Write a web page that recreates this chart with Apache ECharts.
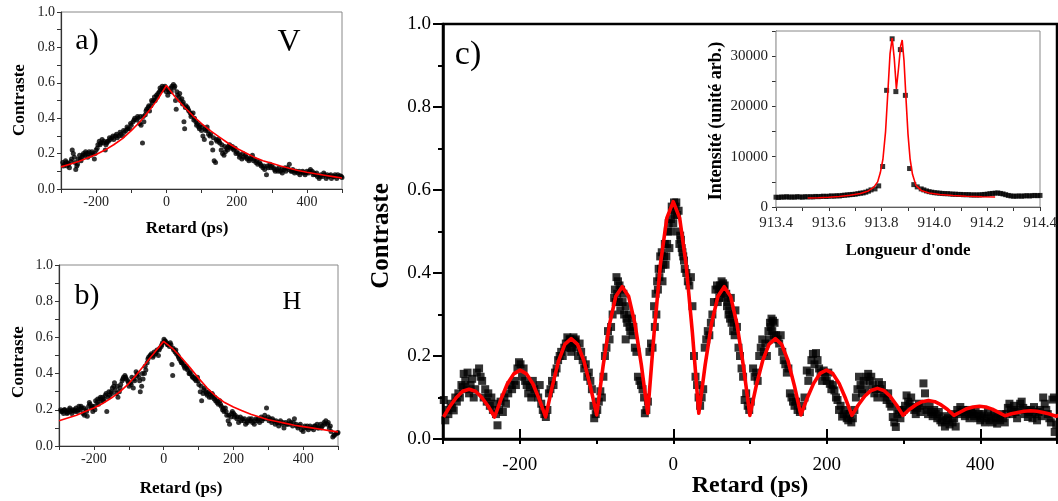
<!DOCTYPE html>
<html>
<head>
<meta charset="utf-8">
<script src="https://cdn.jsdelivr.net/npm/echarts@6/dist/echarts.min.js"></script>
<style>
html,body{margin:0;padding:0;background:#fff;}
#chart{width:1058px;height:501px;}
</style>
</head>
<body>
<div id="chart"></div>
<script>
// ---------- Data ----------
const scatterA = [[-295,0.15],[-290,0.14],[-287,0.16],[-283,0.13],[-280,0.145],[-276,0.12],[-272,0.155],[-268,0.22],[-265,0.2],[-262,0.18],[-258,0.11],[-255,0.13],[-251,0.17],[-247,0.19],[-243,0.16],[-240,0.18],[-236,0.2],[-232,0.19],[-228,0.2],[-224,0.18],[-220,0.21],[-215,0.19],[-210,0.2],[-205,0.17],[-200,0.22],[-195,0.25],[-191,0.27],[-187,0.26],[-183,0.28],[-178,0.27],[-174,0.22],[-170,0.26],[-165,0.27],[-160,0.28],[-155,0.29],[-150,0.28],[-145,0.3],[-140,0.29],[-135,0.3],[-130,0.31],[-125,0.3],[-120,0.32],[-115,0.33],[-110,0.34],[-105,0.34],[-100,0.36],[-95,0.38],[-90,0.4],[-85,0.39],[-80,0.4],[-76,0.37],[-72,0.36],[-68,0.26],[-64,0.38],[-60,0.42],[-56,0.45],[-52,0.46],[-48,0.44],[-44,0.47],[-40,0.49],[-36,0.5],[-32,0.5],[-28,0.53],[-24,0.54],[-20,0.55],[-16,0.56],[-12,0.58],[-8,0.57],[-4,0.58],[0,0.55],[4,0.53],[8,0.55],[12,0.57],[16,0.58],[20,0.59],[24,0.58],[26,0.5],[28,0.45],[32,0.53],[36,0.52],[40,0.5],[44,0.51],[48,0.49],[50,0.38],[52,0.34],[56,0.47],[60,0.46],[64,0.44],[68,0.43],[72,0.42],[76,0.43],[80,0.4],[84,0.38],[88,0.37],[92,0.35],[96,0.36],[100,0.33],[104,0.3],[108,0.28],[112,0.33],[116,0.35],[120,0.31],[124,0.3],[128,0.26],[132,0.22],[136,0.16],[140,0.15],[144,0.27],[148,0.28],[152,0.26],[156,0.22],[160,0.2],[164,0.19],[168,0.21],[172,0.23],[176,0.24],[180,0.25],[184,0.23],[188,0.24],[192,0.22],[196,0.23],[200,0.21],[205,0.2],[210,0.19],[215,0.17],[220,0.18],[225,0.19],[230,0.17],[235,0.16],[240,0.18],[245,0.19],[250,0.17],[255,0.15],[260,0.14],[265,0.15],[270,0.13],[275,0.12],[280,0.11],[285,0.08],[290,0.12],[295,0.14],[300,0.13],[305,0.12],[310,0.1],[315,0.11],[320,0.12],[325,0.1],[330,0.09],[335,0.11],[340,0.1],[345,0.12],[350,0.14],[355,0.1],[360,0.11],[365,0.09],[370,0.1],[375,0.09],[380,0.08],[385,0.095],[390,0.09],[395,0.08],[400,0.1],[405,0.09],[410,0.11],[415,0.1],[420,0.09],[425,0.08],[430,0.07],[435,0.06],[440,0.08],[445,0.07],[450,0.08],[455,0.06],[460,0.07],[465,0.075],[470,0.06],[475,0.07],[480,0.08],[485,0.06],[490,0.07],[495,0.075],[500,0.065],
[-293,0.13],[-285,0.15],[-278,0.14],[-270,0.17],[-260,0.15],[-253,0.14],[-245,0.17],[-238,0.19],[-230,0.21],[-222,0.2],[-212,0.21],[-203,0.2],[-197,0.23],[-189,0.25],[-180,0.26],[-172,0.25],[-168,0.27],[-162,0.29],[-152,0.3],[-142,0.31],[-132,0.32],[-122,0.33],[-112,0.35],[-102,0.37],[-92,0.39],[-82,0.41],[-74,0.41],[-66,0.41],[-58,0.44],[-50,0.47],[-42,0.5],[-34,0.52],[-26,0.52],[-18,0.57],[-10,0.56],[-2,0.57],[6,0.56],[14,0.55],[22,0.57],[30,0.55],[38,0.54],[46,0.48],[54,0.46],[62,0.45],[70,0.41],[78,0.39],[86,0.36],[94,0.34],[102,0.35],[110,0.34],[118,0.33],[126,0.31],[134,0.29],[142,0.28],[150,0.27],[158,0.25],[166,0.24],[174,0.22],[182,0.24],[190,0.23],[198,0.2],[208,0.18],[218,0.2],[228,0.18],[238,0.17],[248,0.16],[258,0.16],[268,0.14],[278,0.13],[288,0.13],[298,0.12],[308,0.11],[318,0.1],[328,0.11],[338,0.12],[348,0.11],[358,0.1],[368,0.1],[378,0.1],[388,0.1],[398,0.09],[408,0.1],[418,0.08],[428,0.09],[438,0.07],[448,0.09],[458,0.08],[468,0.08],[478,0.07],[488,0.08],[498,0.07]];

const fitA = [[-300,0.125],[-275,0.14],[-250,0.155],[-225,0.175],[-200,0.195],[-175,0.22],[-150,0.25],[-125,0.285],[-100,0.33],[-75,0.38],[-50,0.44],[-25,0.505],[0,0.585],[25,0.52],[50,0.465],[75,0.415],[100,0.37],[125,0.33],[150,0.295],[175,0.26],[200,0.23],[225,0.205],[250,0.18],[275,0.16],[300,0.145],[325,0.13],[350,0.117],[375,0.105],[400,0.095],[425,0.086],[450,0.078],[475,0.07],[500,0.062]];

const scatterB = [[-295,0.2],[-291,0.19],[-287,0.18],[-283,0.2],[-279,0.19],[-275,0.185],[-271,0.2],[-267,0.19],[-263,0.18],[-259,0.195],[-255,0.2],[-251,0.21],[-247,0.19],[-243,0.22],[-239,0.2],[-235,0.21],[-231,0.18],[-227,0.17],[-223,0.2],[-219,0.165],[-215,0.22],[-211,0.23],[-207,0.21],[-203,0.19],[-199,0.22],[-195,0.25],[-191,0.24],[-187,0.23],[-183,0.26],[-179,0.25],[-175,0.27],[-171,0.26],[-167,0.28],[-163,0.19],[-159,0.27],[-155,0.28],[-151,0.3],[-147,0.32],[-143,0.33],[-139,0.31],[-135,0.29],[-131,0.27],[-127,0.3],[-123,0.34],[-119,0.36],[-115,0.38],[-111,0.39],[-107,0.37],[-103,0.36],[-99,0.33],[-95,0.35],[-91,0.38],[-87,0.32],[-83,0.36],[-79,0.41],[-75,0.4],[-71,0.38],[-67,0.3],[-63,0.33],[-59,0.37],[-55,0.4],[-51,0.42],[-47,0.46],[-43,0.49],[-39,0.5],[-35,0.51],[-31,0.49],[-27,0.52],[-23,0.51],[-19,0.53],[-15,0.5],[-11,0.54],[-7,0.55],[-3,0.57],[1,0.59],[5,0.58],[9,0.57],[13,0.56],[17,0.55],[21,0.56],[24,0.45],[26,0.39],[29,0.53],[33,0.52],[37,0.51],[41,0.5],[45,0.48],[49,0.47],[53,0.46],[57,0.45],[61,0.43],[65,0.44],[69,0.42],[73,0.4],[77,0.41],[81,0.39],[85,0.38],[89,0.37],[93,0.36],[97,0.38],[101,0.34],[105,0.3],[109,0.25],[113,0.29],[117,0.32],[121,0.3],[125,0.28],[129,0.3],[133,0.29],[137,0.27],[141,0.28],[145,0.26],[149,0.25],[153,0.24],[157,0.23],[161,0.25],[165,0.22],[169,0.2],[173,0.19],[177,0.21],[181,0.17],[185,0.14],[189,0.12],[193,0.16],[197,0.19],[201,0.18],[205,0.17],[210,0.15],[215,0.13],[220,0.16],[225,0.15],[230,0.14],[235,0.12],[240,0.13],[245,0.15],[250,0.14],[255,0.13],[260,0.12],[265,0.15],[270,0.14],[275,0.13],[280,0.16],[285,0.15],[290,0.17],[295,0.21],[300,0.16],[305,0.15],[310,0.13],[315,0.14],[320,0.12],[325,0.13],[330,0.11],[335,0.14],[340,0.12],[345,0.1],[350,0.13],[355,0.12],[360,0.14],[365,0.13],[370,0.11],[375,0.15],[380,0.12],[385,0.1],[390,0.11],[395,0.09],[400,0.08],[405,0.11],[410,0.1],[415,0.09],[420,0.11],[425,0.1],[430,0.09],[435,0.11],[440,0.12],[445,0.1],[450,0.12],[455,0.11],[460,0.13],[465,0.14],[470,0.12],[475,0.1],[480,0.08],[485,0.05],[490,0.06],[495,0.07],[500,0.075],
[-293,0.19],[-285,0.2],[-277,0.18],[-269,0.21],[-261,0.2],[-253,0.19],[-245,0.2],[-237,0.22],[-229,0.21],[-221,0.19],[-213,0.24],[-205,0.22],[-197,0.2],[-189,0.26],[-181,0.27],[-173,0.25],[-165,0.29],[-157,0.3],[-149,0.29],[-141,0.35],[-133,0.33],[-125,0.32],[-117,0.37],[-109,0.38],[-101,0.35],[-93,0.34],[-85,0.37],[-77,0.39],[-69,0.36],[-61,0.4],[-53,0.44],[-45,0.48],[-37,0.5],[-29,0.5],[-21,0.52],[-13,0.53],[-5,0.56],[3,0.58],[11,0.56],[19,0.57],[27,0.54],[35,0.53],[43,0.49],[51,0.46],[59,0.44],[67,0.43],[75,0.4],[83,0.38],[91,0.37],[99,0.36],[107,0.33],[115,0.31],[123,0.29],[131,0.27],[139,0.29],[147,0.27],[155,0.25],[163,0.23],[171,0.21],[179,0.19],[187,0.17],[195,0.18],[203,0.16],[212,0.16],[222,0.14],[232,0.15],[242,0.14],[252,0.15],[262,0.14],[272,0.15],[282,0.14],[292,0.15],[302,0.14],[312,0.15],[322,0.14],[332,0.13],[342,0.13],[352,0.12],[362,0.12],[372,0.13],[382,0.11],[392,0.12],[402,0.1],[412,0.11],[422,0.1],[432,0.11],[442,0.1],[452,0.1],[462,0.12],[472,0.13],[478,0.11],[488,0.06],[498,0.07]];

const fitB = [[-300,0.14],[-275,0.155],[-250,0.17],[-225,0.19],[-200,0.21],[-175,0.235],[-150,0.265],[-125,0.3],[-100,0.345],[-75,0.4],[-50,0.46],[-25,0.52],[0,0.578],[25,0.54],[50,0.49],[75,0.435],[100,0.375],[125,0.32],[150,0.275],[175,0.24],[200,0.215],[225,0.195],[250,0.175],[275,0.16],[300,0.145],[325,0.135],[350,0.125],[375,0.115],[400,0.107],[425,0.1],[450,0.093],[475,0.085],[500,0.078]];

const scatterC = [[-299,0.094],[-297,0.045],[-295,0.07],[-293,0.06],[-290,0.085],[-288,0.075],[-286,0.069],[-284,0.1],[-282,0.09],[-280,0.11],[-278,0.1],[-276,0.13],[-274,0.125],[-273,0.157],[-271,0.14],[-269,0.12],[-268,0.16],[-266,0.11],[-264,0.13],[-262,0.145],[-260,0.1],[-258,0.12],[-256,0.16],[-253,0.17],[-251,0.15],[-249,0.14],[-247,0.1],[-245,0.12],[-243,0.09],[-241,0.11],[-239,0.08],[-237,0.1],[-235,0.07],[-233,0.085],[-231,0.06],[-229,0.033],[-227,0.07],[-225,0.09],[-222,0.065],[-220,0.1],[-218,0.085],[-215,0.11],[-212,0.13],[-210,0.12],[-207,0.14],[-205,0.13],[-203,0.17],[-201,0.185],[-199,0.18],[-197,0.15],[-195,0.17],[-193,0.14],[-191,0.13],[-189,0.11],[-187,0.125],[-185,0.1],[-183,0.14],[-181,0.12],[-179,0.11],[-176,0.1],[-174,0.13],[-172,0.085],[-170,0.07],[-168,0.06],[-166,0.053],[-164,0.07],[-162,0.11],[-160,0.12],[-158,0.14],[-156,0.13],[-154,0.16],[-152,0.17],[-150,0.19],[-148,0.2],[-146,0.21],[-144,0.2],[-142,0.22],[-140,0.23],[-138,0.245],[-136,0.23],[-134,0.24],[-132,0.22],[-130,0.245],[-128,0.235],[-126,0.22],[-124,0.2],[-122,0.23],[-120,0.21],[-118,0.19],[-116,0.17],[-114,0.18],[-112,0.15],[-110,0.16],[-108,0.14],[-106,0.12],[-104,0.08],[-103,0.05],[-101,0.06],[-99,0.07],[-97,0.09],[-95,0.115],[-93,0.1],[-91,0.15],[-89,0.2],[-87,0.22],[-85,0.26],[-83,0.24],[-81,0.27],[-79,0.3],[-77,0.34],[-75,0.33],[-74,0.39],[-72,0.38],[-70,0.37],[-68,0.36],[-66,0.33],[-64,0.3],[-62,0.32],[-60,0.28],[-58,0.3],[-56,0.26],[-54,0.29],[-52,0.27],[-50,0.22],[-48,0.21],[-46,0.15],[-44,0.14],[-42,0.13],[-40,0.12],[-38,0.1],[-37,0.062],[-35,0.07],[-33,0.09],[-31,0.21],[-29,0.23],[-27,0.22],[-25,0.32],[-23,0.35],[-21,0.38],[-19,0.41],[-17,0.44],[-15,0.45],[-13,0.42],[-11,0.47],[-9,0.44],[-7,0.5],[-5,0.46],[-3,0.53],[-1,0.55],[1,0.57],[3,0.56],[5,0.54],[7,0.55],[9,0.49],[11,0.46],[13,0.44],[15,0.41],[17,0.4],[19,0.38],[21,0.37],[23,0.39],[25,0.32],[27,0.2],[29,0.15],[31,0.13],[33,0.1],[35,0.08],[37,0.1],[39,0.12],[41,0.22],[43,0.24],[45,0.26],[47,0.25],[49,0.28],[51,0.3],[53,0.33],[55,0.36],[57,0.37],[59,0.36],[61,0.37],[63,0.38],[65,0.375],[67,0.37],[69,0.35],[71,0.33],[73,0.31],[75,0.34],[77,0.3],[79,0.28],[81,0.31],[83,0.27],[85,0.22],[87,0.2],[89,0.17],[91,0.15],[93,0.094],[95,0.11],[97,0.08],[99,0.07],[101,0.09],[104,0.17],[106,0.15],[108,0.16],[110,0.14],[112,0.2],[114,0.22],[116,0.24],[118,0.21],[120,0.23],[122,0.2],[124,0.26],[126,0.28],[128,0.29],[130,0.285],[132,0.28],[134,0.25],[136,0.24],[138,0.23],[140,0.25],[142,0.21],[144,0.19],[146,0.18],[148,0.16],[150,0.17],[152,0.11],[154,0.1],[156,0.09],[158,0.08],[160,0.09],[162,0.07],[165,0.065],[168,0.08],[171,0.1],[174,0.165],[176,0.14],[178,0.16],[180,0.19],[182,0.205],[184,0.18],[186,0.207],[188,0.19],[190,0.17],[192,0.16],[194,0.14],[196,0.165],[198,0.15],[200,0.14],[202,0.16],[204,0.133],[206,0.12],[208,0.13],[210,0.117],[212,0.1],[214,0.094],[216,0.07],[218,0.08],[220,0.054],[222,0.06],[224,0.07],[226,0.05],[228,0.045],[230,0.06],[232,0.04],[234,0.05],[236,0.07],[238,0.1],[240,0.12],[242,0.15],[244,0.13],[246,0.11],[248,0.14],[250,0.12],[252,0.15],[254,0.157],[256,0.14],[258,0.15],[260,0.13],[262,0.11],[264,0.12],[266,0.1],[268,0.137],[270,0.12],[272,0.13],[274,0.11],[276,0.1],[278,0.094],[280,0.11],[282,0.085],[284,0.078],[286,0.053],[288,0.04],[290,0.029],[292,0.06],[294,0.07],[296,0.05],[298,0.065],[300,0.07],[302,0.08],[304,0.105],[306,0.09],[308,0.085],[310,0.1],[312,0.077],[314,0.07],[316,0.06],[318,0.075],[320,0.085],[322,0.065],[324,0.08],[326,0.134],[328,0.11],[330,0.07],[332,0.06],[334,0.08],[336,0.065],[338,0.055],[340,0.07],[342,0.06],[344,0.05],[346,0.065],[348,0.045],[350,0.04],[352,0.055],[354,0.03],[356,0.045],[358,0.05],[360,0.035],[362,0.06],[364,0.04],[366,0.05],[368,0.03],[370,0.07],[372,0.06],[374,0.077],[376,0.065],[378,0.07],[380,0.055],[382,0.06],[384,0.07],[386,0.05],[388,0.065],[390,0.06],[392,0.055],[394,0.069],[396,0.05],[398,0.06],[400,0.045],[402,0.055],[404,0.06],[406,0.04],[408,0.05],[410,0.065],[412,0.045],[414,0.055],[416,0.04],[418,0.06],[420,0.05],[422,0.037],[424,0.055],[426,0.045],[428,0.06],[430,0.05],[432,0.04],[434,0.06],[436,0.075],[438,0.085],[440,0.07],[442,0.06],[444,0.08],[446,0.065],[448,0.05],[450,0.07],[452,0.085],[454,0.09],[456,0.075],[458,0.06],[460,0.07],[462,0.053],[464,0.065],[466,0.07],[468,0.05],[470,0.077],[472,0.06],[474,0.045],[476,0.065],[478,0.07],[480,0.055],[482,0.1],[484,0.085],[486,0.07],[488,0.06],[490,0.05],[492,0.04],[494,0.095],[496,0.1],[497,0.017],[499,0.035],
[-76,0.36],[-73,0.35],[-71,0.33],[-69,0.31],[-65,0.35],[-61,0.29],[-57,0.27],[-53,0.25],[-62,0.24],[-24,0.27],[-22,0.3],[-20,0.36],[-18,0.39],[-16,0.41],[-14,0.38],[-12,0.44],[-10,0.42],[-8,0.47],[-6,0.52],[-4,0.5],[-2,0.56],[0,0.52],[2,0.54],[4,0.57],[6,0.5],[8,0.47],[10,0.48],[12,0.45],[14,0.43],[58,0.33],[60,0.34],[62,0.35],[64,0.36],[66,0.36],[68,0.34],[70,0.32],[72,0.3],[74,0.29],[76,0.28],[78,0.26],[80,0.25],[127,0.27],[129,0.26],[131,0.25],[125,0.24],[-139,0.22],[-135,0.24],[-131,0.23],[-127,0.24],[-133,0.21]];

const fitC = [[-299.3,0.053],[-290.9,0.079],[-282.6,0.100],[-274.3,0.115],[-266.0,0.120],[-257.7,0.115],[-249.4,0.100],[-241.1,0.079],[-232.8,0.053],[-224.4,0.096],[-216.1,0.133],[-207.8,0.157],[-199.5,0.166],[-191.2,0.157],[-182.9,0.133],[-174.6,0.096],[-166.3,0.053],[-157.9,0.125],[-149.6,0.187],[-141.3,0.228],[-133.0,0.242],[-124.7,0.228],[-116.4,0.188],[-108.1,0.128],[-99.8,0.058],[-91.4,0.176],[-83.1,0.276],[-74.8,0.344],[-66.5,0.367],[-58.2,0.344],[-49.9,0.278],[-41.6,0.179],[-33.3,0.062],[-24.9,0.257],[-16.6,0.423],[-8.3,0.533],[0,0.572],[8.3,0.533],[16.6,0.423],[24.9,0.257],[33.3,0.062],[41.6,0.179],[49.9,0.278],[58.2,0.344],[66.5,0.367],[74.8,0.343],[83.1,0.276],[91.4,0.176],[99.8,0.057],[108.1,0.128],[116.4,0.188],[124.7,0.228],[133.0,0.242],[141.3,0.228],[149.6,0.188],[157.9,0.128],[166.3,0.058],[174.6,0.099],[182.9,0.134],[191.2,0.158],[199.5,0.166],[207.8,0.158],[216.1,0.134],[224.4,0.098],[232.8,0.057],[241.1,0.082],[249.4,0.103],[257.7,0.117],[266.0,0.122],[274.3,0.117],[282.6,0.103],[290.9,0.082],[299.3,0.057],[307.6,0.071],[315.9,0.082],[324.2,0.090],[332.5,0.093],[340.8,0.090],[349.1,0.082],[357.4,0.071],[365.8,0.057],[374.1,0.065],[382.4,0.073],[390.7,0.077],[399.0,0.079],[407.3,0.077],[415.6,0.072],[423.9,0.064],[432.3,0.056],[440.6,0.061],[448.9,0.064],[457.2,0.067],[465.5,0.068],[473.8,0.067],[482.1,0.064],[490.4,0.060],[498.8,0.055],[507,0.06]];

const scatterInset = [[913.40,1950],[913.41,1900],[913.42,2000],[913.43,1950],[913.44,2050],[913.45,1950],[913.46,2000],[913.47,1950],[913.48,2050],[913.49,2000],[913.50,1950],[913.51,2050],[913.52,2000],[913.53,2050],[913.54,2000],[913.55,2100],[913.56,2050],[913.57,2100],[913.58,2150],[913.59,2100],[913.60,2150],[913.61,2200],[913.62,2150],[913.63,2250],[913.64,2200],[913.65,2300],[913.66,2350],[913.67,2400],[913.68,2450],[913.69,2500],[913.70,2550],[913.71,2650],[913.72,2750],[913.73,2800],[913.74,2950],[913.75,3150],[913.76,3400],[913.775,3600],[913.789,4200],[913.804,8050],[913.819,23200],[913.84,33450],[913.854,22950],[913.871,31300],[913.89,22200],[913.906,7650],[913.922,4450],[913.935,4000],[913.95,3600],[913.96,3400],[913.97,3200],[913.98,3050],[913.99,2950],[914.00,2850],[914.01,2800],[914.02,2750],[914.03,2700],[914.04,2650],[914.05,2650],[914.06,2600],[914.07,2550],[914.08,2550],[914.09,2500],[914.10,2500],[914.11,2450],[914.12,2450],[914.13,2450],[914.14,2400],[914.15,2400],[914.16,2400],[914.17,2400],[914.18,2450],[914.19,2500],[914.20,2550],[914.21,2650],[914.22,2700],[914.23,2750],[914.24,2800],[914.25,2700],[914.26,2600],[914.27,2450],[914.28,2300],[914.29,2200],[914.30,2150],[914.31,2150],[914.32,2200],[914.33,2150],[914.34,2200],[914.35,2250],[914.36,2200],[914.37,2250],[914.38,2300],[914.39,2250],[914.40,2300]];

const fitInset = [[913.52,1800],[913.56,1850],[913.60,1950],[913.64,2100],[913.68,2350],[913.72,2700],[913.75,3200],[913.77,3900],[913.785,5000],[913.795,6800],[913.805,9500],[913.815,15000],[913.825,24000],[913.832,30500],[913.84,33600],[913.848,29500],[913.856,23500],[913.864,27500],[913.872,32000],[913.878,33200],[913.885,29000],[913.893,21000],[913.90,14500],[913.908,9500],[913.917,6500],[913.93,4300],[913.95,3300],[913.98,2800],[914.02,2500],[914.07,2300],[914.12,2150],[914.18,2050],[914.23,2000]];

const delayTickLabels = [-200, 0, 200, 400];

// ---------- Styling helpers ----------
const SERIF = '"Liberation Serif", "DejaVu Serif", serif';
const RED = '#ff0000';
const evenHundred = v => (delayTickLabels.indexOf(Math.round(v)) >= 0 ? String(Math.round(v)) : '');
const tenth = v => v.toFixed(1);

function smallX(grid) {
  return {
    type: 'value', gridIndex: grid, min: -300, max: 500, interval: 100,
    axisLine: {show: true, onZero: false, lineStyle: {color: '#333', width: 1.2}},
    axisTick: {show: true, inside: false, length: 4, lineStyle: {color: '#333', width: 1}},
    axisLabel: {formatter: evenHundred, color: '#222', fontFamily: SERIF, fontSize: 14, margin: 6},
    splitLine: {show: false}
  };
}
function smallY(grid) {
  return {
    type: 'value', gridIndex: grid, min: 0, max: 1, interval: 0.2,
    axisLine: {show: true, onZero: false, lineStyle: {color: '#333', width: 1.2}},
    axisTick: {show: true, inside: false, length: 4, lineStyle: {color: '#333', width: 1}},
    minorTick: {show: true, splitNumber: 2, length: 4, lineStyle: {color: '#333', width: 1}},
    axisLabel: {formatter: tenth, color: '#222', fontFamily: SERIF, fontSize: 14, margin: 6},
    splitLine: {show: false}, minorSplitLine: {show: false}
  };
}

function txt(x, y, text, size, bold, rot) {
  return {
    type: 'text', x: x, y: y, rotation: rot || 0, z: 100,
    style: {
      text: text, fill: '#000',
      font: (bold ? 'bold ' : '') + size + 'px ' + SERIF,
      align: 'center', verticalAlign: 'middle'
    }
  };
}

const chart = echarts.init(document.getElementById('chart'), null, {renderer: 'canvas'});

const option = {
  animation: false,
  backgroundColor: '#fff',
  grid: [
    {left: 61, top: 12, right: 716, bottom: 312, show: true, borderColor: '#888', borderWidth: 1, backgroundColor: 'transparent', outerBoundsMode: 'none'},
    {left: 59, top: 265, right: 720, bottom: 55, show: true, borderColor: '#888', borderWidth: 1, backgroundColor: 'transparent', outerBoundsMode: 'none'},
    {left: 443, top: 24, right: 1, bottom: 62, show: true, borderColor: '#000', borderWidth: 2.5, backgroundColor: 'transparent', outerBoundsMode: 'none'},
    {left: 776, top: 31, right: 18, bottom: 294, show: true, borderColor: '#888', borderWidth: 1, backgroundColor: '#fff', outerBoundsMode: 'none', z: 10}
  ],
  xAxis: [
    smallX(0),
    smallX(1),
    {
      type: 'value', gridIndex: 2, min: -300, max: 500, interval: 100,
      axisLine: {show: true, onZero: false, lineStyle: {color: '#000', width: 2.5}},
      axisTick: {show: true, inside: false, length: 5, lineStyle: {color: '#000', width: 2}},
      axisLabel: {formatter: evenHundred, color: '#000', fontFamily: SERIF, fontSize: 19, margin: 17},
      splitLine: {show: false}
    },
    {
      type: 'value', gridIndex: 3, min: 913.4, max: 914.4, interval: 0.1,
      axisLine: {show: true, onZero: false, lineStyle: {color: '#333', width: 1.2}},
      axisTick: {show: true, inside: false, length: 4, lineStyle: {color: '#333', width: 1}},
      axisLabel: {
        formatter: v => (Math.round(v * 10) % 2 === 0 ? v.toFixed(1) : ''),
        color: '#222', fontFamily: SERIF, fontSize: 15, margin: 9, showMaxLabel: true, showMinLabel: true
      },
      splitLine: {show: false}
    },
    {
      type: 'value', gridIndex: 2, min: -300, max: 500,
      axisLine: {show: false},
      axisTick: {show: true, inside: false, length: 10, customValues: delayTickLabels, lineStyle: {color: '#000', width: 2}},
      axisLabel: {show: false},
      splitLine: {show: false}
    }
  ],
  yAxis: [
    smallY(0),
    smallY(1),
    {
      type: 'value', gridIndex: 2, min: 0, max: 1, interval: 0.2,
      axisLine: {show: true, onZero: false, lineStyle: {color: '#000', width: 2.5}},
      axisTick: {show: true, inside: false, length: 10, lineStyle: {color: '#000', width: 2}},
      minorTick: {show: true, splitNumber: 2, length: 5, lineStyle: {color: '#000', width: 2}},
      axisLabel: {formatter: tenth, color: '#000', fontFamily: SERIF, fontSize: 19, margin: 12},
      splitLine: {show: false}, minorSplitLine: {show: false}
    },
    {
      type: 'value', gridIndex: 3, min: 0, max: 35000, interval: 5000,
      axisLine: {show: true, onZero: false, lineStyle: {color: '#333', width: 1.2}},
      axisTick: {show: true, inside: false, length: 4, lineStyle: {color: '#333', width: 1}},
      axisLabel: {
        formatter: v => (v % 10000 === 0 ? String(v) : ''),
        color: '#222', fontFamily: SERIF, fontSize: 15, margin: 8
      },
      splitLine: {show: false}
    }
  ],
  series: [
    {type: 'scatter', xAxisIndex: 0, yAxisIndex: 0, data: scatterA, symbol: 'circle', symbolSize: 5, itemStyle: {color: '#000'}, z: 2},
    {type: 'line', xAxisIndex: 0, yAxisIndex: 0, data: fitA, showSymbol: false, smooth: false, lineStyle: {color: RED, width: 1.6}, z: 3},
    {type: 'scatter', xAxisIndex: 1, yAxisIndex: 1, data: scatterB, symbol: 'circle', symbolSize: 5, itemStyle: {color: '#000'}, z: 2},
    {type: 'line', xAxisIndex: 1, yAxisIndex: 1, data: fitB, showSymbol: false, smooth: false, lineStyle: {color: RED, width: 1.6}, z: 3},
    {type: 'scatter', xAxisIndex: 2, yAxisIndex: 2, data: scatterC, symbol: 'rect', symbolSize: 8, itemStyle: {color: '#000'}, z: 2},
    {type: 'line', xAxisIndex: 2, yAxisIndex: 2, data: fitC, showSymbol: false, smooth: false, lineStyle: {color: RED, width: 3.6, join: 'round'}, z: 3},
    {type: 'scatter', xAxisIndex: 3, yAxisIndex: 3, data: scatterInset, symbol: 'rect', symbolSize: 5, itemStyle: {color: '#000'}, z: 12},
    {type: 'line', xAxisIndex: 3, yAxisIndex: 3, data: fitInset, showSymbol: false, smooth: false, lineStyle: {color: RED, width: 1.6}, z: 13}
  ],
  graphic: [
    txt(87, 41, 'a)', 30, false),
    txt(289, 43, 'V', 32, false),
    txt(87, 296, 'b)', 30, false),
    txt(292, 302, 'H', 26, false),
    txt(468, 55, 'c)', 34, false),
    txt(20, 100, 'Contraste', 17, true, Math.PI / 2),
    txt(187, 229, 'Retard (ps)', 17, true),
    txt(19, 362, 'Contraste', 17, true, Math.PI / 2),
    txt(181, 489, 'Retard (ps)', 17, true),
    txt(382, 236, 'Contraste', 25, true, Math.PI / 2),
    txt(750, 486, 'Retard (ps)', 24, true),
    txt(716, 121, 'Intensité (unité arb.)', 18, true, Math.PI / 2),
    txt(908, 251, "Longueur d'onde", 17, true)
  ]
};

chart.setOption(option);
</script>
</body>
</html>
